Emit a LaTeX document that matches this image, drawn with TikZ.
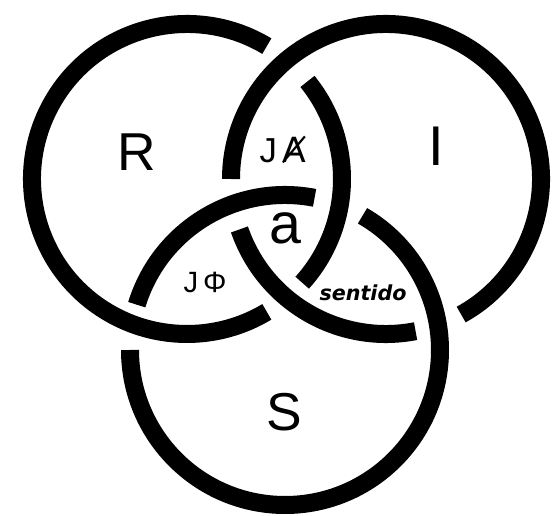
\documentclass[tikz,border=0pt]{standalone}
\usepackage{fontspec}
\setmainfont{Liberation Sans}
\newfontfamily\dejavu{DejaVu Sans}
\usepackage{tikz}

\begin{document}
\begin{tikzpicture}[x=0.75pt,y=0.75pt,
  anillo/.style={draw=black,line width=13.5pt},
  letra/.style={inner sep=0pt,text=black}]
\fill[white] (0,0) rectangle (557,-516);
\useasboundingbox (0,0) rectangle (557,-516);
% centros de los anillos
\coordinate (R) at (187,-179);
\coordinate (I) at (386,-179);
\coordinate (S) at (285,-350);
% Real (pasa bajo I)
\draw[anillo] (R) ++(59:155) arc[start angle=59,end angle=301,radius=155];
\draw[anillo] (R) ++(-42:155) arc[start angle=-42,end angle=39,radius=155];
% Imaginario (pasa bajo S)
\draw[anillo] (I) ++(299:155) arc[start angle=299,end angle=540,radius=155];
\draw[anillo] (I) ++(199:155) arc[start angle=199,end angle=281,radius=155];
% Simbolico (pasa bajo R)
\draw[anillo] (S) ++(79:155) arc[start angle=79,end angle=163,radius=155];
\draw[anillo] (S) ++(180:155) arc[start angle=180,end angle=420,radius=155];
% letras
\node[letra,font=\fontsize{40}{40}\selectfont] (tR) at (137,-152) {R};
\node[letra,font=\fontsize{42}{42}\selectfont] (tI) at (436,-146) {I};
\node[letra,font=\fontsize{40}{40}\selectfont] (tS) at (284,-412) {S};
\node[letra,font=\fontsize{26}{26}\selectfont] (tJA) at (283,-150) {J\,{\dejavu Ⱥ}};
\node[letra,font=\fontsize{43}{43}\selectfont] (ta) at (285,-228) {a};
\node[letra,font=\fontsize{22}{22}\selectfont] (tJP) at (205,-282) {J\,Φ};
\node[letra,font=\dejavu\bfseries\itshape\fontsize{15.5}{15.5}\selectfont] (tsen) at (363,-293) {sentido};
\end{tikzpicture}
\end{document}
